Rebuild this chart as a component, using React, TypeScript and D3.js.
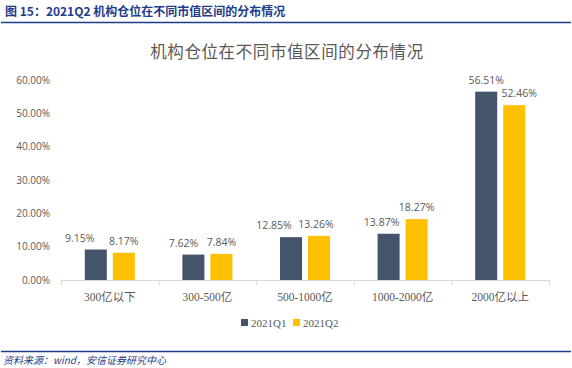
import React from "react";
import * as d3 from "d3";

const categories = ["300亿以下", "300-500亿", "500-1000亿", "1000-2000亿", "2000亿以上"];
const seriesNames = ["2021Q1", "2021Q2"];
const q1Values = [9.15, 7.62, 12.85, 13.87, 56.51];
const q2Values = [8.17, 7.84, 13.26, 18.27, 52.46];
const yTicks = [0, 10, 20, 30, 40, 50, 60];
const colors = ["#44546A", "#FFC000"];

const W = 572;
const H = 368;

export default function App() {
  const x = d3.scaleBand<string>().domain(categories).range([61, 549]).paddingInner(0).paddingOuter(0);
  const inner = d3.scaleBand<string>().domain(seriesNames).range([0, x.bandwidth()]).paddingInner(0.214).paddingOuter(0.85);
  const y = d3.scaleLinear().domain([0, 60]).range([280, 80]);
  const series = [q1Values, q2Values];
  // label nudges (as placed in the source chart to avoid overlaps)
  const labelShift = [
    [-16, -10, -17, -7, 0],
    [0, 0, -3, 0, 5],
  ];
  const cjk = "'Noto Sans CJK SC', 'Noto Sans', sans-serif";
  const serifMix = "'Liberation Serif', 'Noto Sans CJK SC', serif";

  return (
    <svg width={W} height={H} style={{ position: "absolute", left: 0, top: 0, background: "#fff" }}>
      <text x={5} y={16} fontFamily={cjk} fontWeight="bold" fontSize={12} fill="#1F3C88">
        图 15：2021Q2 机构仓位在不同市值区间的分布情况
      </text>
      <line x1={1} x2={571} y1={22.5} y2={22.5} stroke="#1F3C88" strokeWidth={1.5} />

      <text x={287} y={58} textAnchor="middle" fontFamily={cjk} fontSize={16.5} fill="#595959" letterSpacing={0.6}>
        机构仓位在不同市值区间的分布情况
      </text>

      {yTicks.map((t) => (
        <text key={t} x={50} y={y(t)} dy="0.35em" textAnchor="end" fontFamily="'Open Sans', sans-serif" fontSize={10} fill="#595959">
          {t.toFixed(2)}%
        </text>
      ))}

      {series.map((vals, si) =>
        vals.map((v, ci) => {
          const bx = (x(categories[ci]) as number) + (inner(seriesNames[si]) as number);
          const bw = inner.bandwidth();
          return (
            <g key={`${si}-${ci}`}>
              <rect x={bx} y={y(v)} width={bw} height={y(0) - y(v)} fill={colors[si]} />
              <text x={bx + bw / 2 + labelShift[si][ci]} y={y(v) - 8} textAnchor="middle" fontFamily="'Open Sans', sans-serif" fontSize={10.5} fill="#595959">
                {v.toFixed(2)}%
              </text>
            </g>
          );
        })
      )}

      <line x1={61} x2={549} y1={280.5} y2={280.5} stroke="#D9D9D9" strokeWidth={1} />
      {categories.concat([""]).map((c, i) => {
        const tx = i < categories.length ? (x(c) as number) : 549;
        return <line key={i} x1={tx + 0.5} x2={tx + 0.5} y1={280} y2={285} stroke="#D9D9D9" />;
      })}
      {categories.map((c) => (
        <text key={c} x={(x(c) as number) + x.bandwidth() / 2} y={301} textAnchor="middle" fontFamily={serifMix} fontSize={11.5} fill="#595959">
          {c}
        </text>
      ))}

      {seriesNames.map((s, i) => (
        <g key={s} transform={`translate(${241 + i * 52},${323})`}>
          <rect x={0} y={-4} width={7} height={7} fill={colors[i]} />
          <text x={10} y={0} dy="0.35em" fontFamily={serifMix} fontSize={11} fill="#595959">
            {s}
          </text>
        </g>
      ))}

      <line x1={1} x2={571} y1={351.5} y2={351.5} stroke="#1F3C88" strokeWidth={1.5} />
      <text x={3} y={364} fontFamily={cjk} fontStyle="italic" fontSize={10} fill="#1F3C88">
        资料来源：wind，安信证券研究中心
      </text>
    </svg>
  );
}
